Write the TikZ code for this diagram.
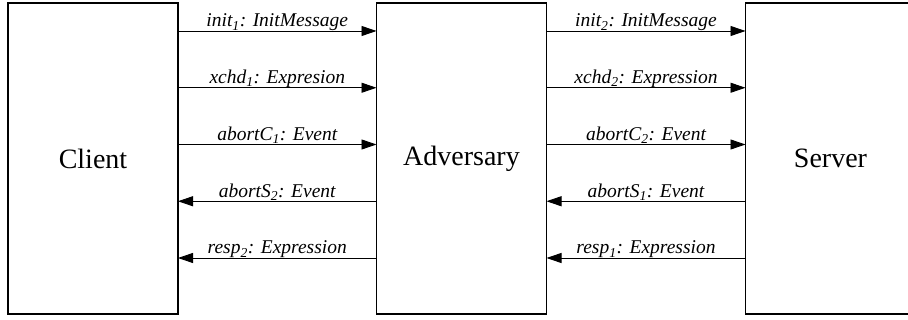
\documentclass[tikz,border=0pt]{standalone}
\usepackage{fontspec}
\setmainfont{Liberation Serif}
\newfontfamily\partyfont{Liberation Serif}
\usetikzlibrary{arrows.meta}

\begin{document}
\begin{tikzpicture}[x=1pt, y=-1pt,
    party/.style={draw, line width=1.1pt, outer sep=0pt, inner sep=0pt, minimum width=170pt, minimum height=311pt, font=\partyfont\fontsize{28}{30}\selectfont},
    msg/.style={line width=0.9pt, -{Triangle[length=15pt, width=10pt]}},
    lbl/.style={anchor=base, yshift=4pt, inner sep=0pt, font=\partyfont\fontsize{19.5}{22}\selectfont\itshape}]
            \clip (0,0) rectangle (908,320);
            \useasboundingbox (0,0) rectangle (908,320);

            \node[party] (client) at (93,158.5) {Client};
            \node[party] (adversary) at (461.5,158.5) {Adversary};
            \node[party] (server) at (830.5,158.5) {Server};

            \foreach \i/\lab in {1/{init\textsubscript{1}: InitMessage}, 2/{xchd\textsubscript{1}: Expresion}, 3/{abortC\textsubscript{1}: Event}} {
                \pgfmathsetmacro{\dy}{-28 - 56.75*(\i - 1)}
                \draw[msg] ([yshift=\dy pt]client.north east) -- node[lbl] {\lab} ([yshift=\dy pt]adversary.north west);
            }
            \foreach \i/\lab in {4/{abortS\textsubscript{2}: Event}, 5/{resp\textsubscript{2}: Expression}} {
                \pgfmathsetmacro{\dy}{-28 - 56.75*(\i - 1)}
                \draw[msg] ([yshift=\dy pt]adversary.north west) -- node[lbl] {\lab} ([yshift=\dy pt]client.north east);
            }

            \foreach \i/\lab in {1/{init\textsubscript{2}: InitMessage}, 2/{xchd\textsubscript{2}: Expression}, 3/{abortC\textsubscript{2}: Event}} {
                \pgfmathsetmacro{\dy}{-28 - 56.75*(\i - 1)}
                \draw[msg] ([yshift=\dy pt]adversary.north east) -- node[lbl] {\lab} ([yshift=\dy pt]server.north west);
            }
            \foreach \i/\lab in {4/{abortS\textsubscript{1}: Event}, 5/{resp\textsubscript{1}: Expression}} {
                \pgfmathsetmacro{\dy}{-28 - 56.75*(\i - 1)}
                \draw[msg] ([yshift=\dy pt]server.north west) -- node[lbl] {\lab} ([yshift=\dy pt]adversary.north east);
            }

        \end{tikzpicture}
\end{document}
